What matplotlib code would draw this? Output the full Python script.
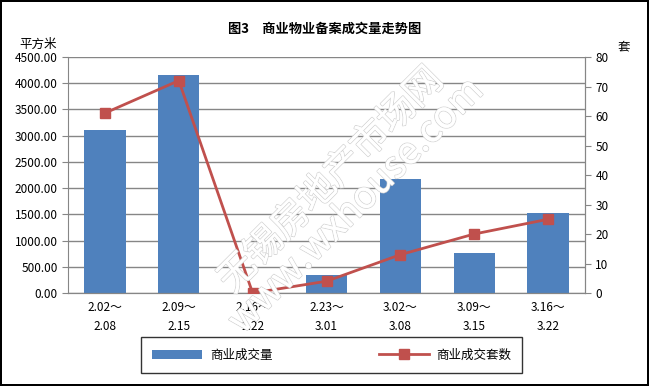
import numpy as np
import matplotlib.pyplot as plt
import matplotlib.patheffects as pe

plt.rcParams['font.family'] = ['Noto Sans CJK SC', 'DejaVu Sans']

# weekly periods
weeks = ["2.02～\n2.08", "2.09～\n2.15", "2.16～\n2.22", "2.23～\n3.01",
         "3.02～\n3.08", "3.09～\n3.15", "3.16～\n3.22"]
area = [3110, 4158, 0, 349, 2177, 768, 1530]   # 平方米
units = [61, 72, 0, 4, 13, 20, 25]             # 套

bar_color = "#4F81BD"
line_color = "#C0504D"
grid_color = "#868686"

f = plt.figure(figsize=(6.49, 3.86), dpi=100)
f.patch.set_edgecolor("black")
f.patch.set_linewidth(1.5)

ax = f.add_axes([0.1048, 0.2409, 0.7966, 0.6114])
ax2 = ax.twinx()

x = np.arange(len(weeks))
ax.bar(x, area, width=0.56, color=bar_color, zorder=2, label="商业成交量")
ax2.plot(x, units, color=line_color, linewidth=2, marker="s", markersize=7,
         markeredgecolor=line_color, label="商业成交套数", zorder=3)

ax.set_xlim(-0.5, len(weeks) - 0.5)
ax.set_ylim(0, 4500)
ax2.set_ylim(0, 80)
ax.set_yticks(np.arange(0, 4501, 500))
ax.set_yticklabels(["%.2f" % v for v in np.arange(0, 4501, 500)])
ax2.set_yticks(np.arange(0, 81, 10))
ax.set_xticks(x)
ax.set_xticklabels(weeks, linespacing=1.6)

ax.grid(axis="y", color=grid_color, linewidth=1, zorder=0)
ax.set_axisbelow(True)
for a in (ax, ax2):
    for s in a.spines.values():
        s.set_color(grid_color)
    a.spines["top"].set_visible(False)
    a.tick_params(colors="black", labelsize=8.5, length=4, color=grid_color)
ax.tick_params(axis="x", length=0, pad=6)
ax2.spines["left"].set_visible(False)

f.text(0.5, 0.925, "图3　商业物业备案成交量走势图", ha="center", va="center",
       fontsize=9.5, fontweight="bold")
f.text(0.03, 0.885, "平方米", ha="left", va="center", fontsize=9)
f.text(0.952, 0.878, "套", ha="left", va="center", fontsize=9)

# watermark
wm = f.text(0.53, 0.5, "无锡房地产市场网\nwww.wxhouse.com", rotation=45,
            ha="center", va="center", fontsize=27, color="white",
            linespacing=0.9, zorder=5)
wm.set_path_effects([pe.withStroke(linewidth=1.2, foreground="#d4d4d4"),
                     pe.Normal()])

h1, l1 = ax.get_legend_handles_labels()
h2, l2 = ax2.get_legend_handles_labels()
leg = f.legend(h1 + h2, l1 + l2, loc="center", bbox_to_anchor=(0.511, 0.08),
               ncol=2, frameon=True, fancybox=False, fontsize=9,
               columnspacing=8.5, handlelength=4, borderpad=0.9,
               handletextpad=0.6, borderaxespad=0)
leg.get_frame().set_edgecolor("black")
leg.get_frame().set_linewidth(1)

f.savefig("out.png", dpi=100)
plt.close()
